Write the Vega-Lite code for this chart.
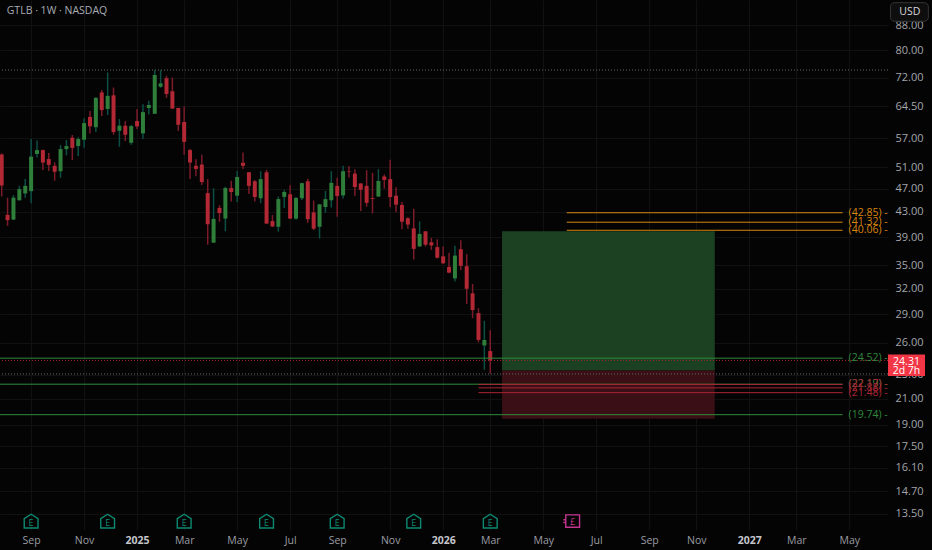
{
"$schema":"https://vega.github.io/schema/vega-lite/v6.json",
"width":888,"height":530,
"autosize":{"type":"none"},
"padding":{"left":0,"top":0,"right":44,"bottom":20},
"background":"#040404",
"config":{"view":{"stroke":null},"font":"Open Sans"},
"datasets":{
"candles":[
{"date":"2024-07-29","open":53.6,"high":53.8,"low":45.6,"close":47.55},
{"date":"2024-08-05","open":42.5,"high":45.4,"low":40.75,"close":41.65},
{"date":"2024-08-12","open":41.75,"high":45.85,"low":41.65,"close":45.4},
{"date":"2024-08-19","open":44.95,"high":47.5,"low":44.9,"close":46.9},
{"date":"2024-08-26","open":46.15,"high":48.75,"low":45.4,"close":47.5},
{"date":"2024-09-02","open":46.55,"high":56.85,"low":44.45,"close":53.15},
{"date":"2024-09-09","open":53.7,"high":56.55,"low":52.95,"close":54.5},
{"date":"2024-09-16","open":54.5,"high":54.6,"low":50.5,"close":51.95},
{"date":"2024-09-23","open":52.65,"high":53.9,"low":50.3,"close":51.5},
{"date":"2024-09-30","open":51.3,"high":52.0,"low":48.45,"close":50.15},
{"date":"2024-10-07","open":50.25,"high":55.55,"low":49.0,"close":54.7},
{"date":"2024-10-14","open":54.7,"high":56.65,"low":53.4,"close":55.35},
{"date":"2024-10-21","open":57.15,"high":57.75,"low":52.45,"close":54.95},
{"date":"2024-10-28","open":55.35,"high":57.25,"low":53.25,"close":56.85},
{"date":"2024-11-04","open":56.7,"high":61.6,"low":55.0,"close":60.45},
{"date":"2024-11-11","open":61.9,"high":63.3,"low":58.1,"close":59.7},
{"date":"2024-11-18","open":59.5,"high":66.75,"low":58.4,"close":66.6},
{"date":"2024-11-25","open":68.0,"high":68.6,"low":62.1,"close":63.55},
{"date":"2024-12-02","open":63.8,"high":73.4,"low":62.35,"close":67.1},
{"date":"2024-12-09","open":67.25,"high":69.3,"low":57.8,"close":58.4},
{"date":"2024-12-16","open":58.7,"high":61.4,"low":55.2,"close":59.85},
{"date":"2024-12-23","open":59.85,"high":60.95,"low":56.4,"close":57.8},
{"date":"2024-12-30","open":56.05,"high":60.0,"low":55.6,"close":59.75},
{"date":"2025-01-06","open":60.95,"high":63.8,"low":59.1,"close":59.7},
{"date":"2025-01-13","open":58.1,"high":65.0,"low":56.85,"close":63.05},
{"date":"2025-01-20","open":64.05,"high":65.85,"low":62.5,"close":64.8},
{"date":"2025-01-27","open":62.65,"high":74.1,"low":62.6,"close":72.7},
{"date":"2025-02-03","open":69.5,"high":74.1,"low":69.2,"close":70.4},
{"date":"2025-02-10","open":71.8,"high":72.5,"low":66.6,"close":67.6},
{"date":"2025-02-17","open":68.3,"high":72.0,"low":63.9,"close":63.9},
{"date":"2025-02-24","open":64.05,"high":64.1,"low":58.65,"close":60.05},
{"date":"2025-03-03","open":60.7,"high":64.4,"low":53.55,"close":56.25},
{"date":"2025-03-10","open":54.5,"high":54.7,"low":48.75,"close":51.95},
{"date":"2025-03-17","open":51.3,"high":52.6,"low":49.3,"close":50.7},
{"date":"2025-03-24","open":51.55,"high":53.55,"low":47.65,"close":48.2},
{"date":"2025-03-31","open":46.2,"high":48.75,"low":37.9,"close":41.0},
{"date":"2025-04-07","open":38.2,"high":47.05,"low":38.2,"close":41.85},
{"date":"2025-04-14","open":43.65,"high":44.1,"low":41.4,"close":42.8},
{"date":"2025-04-21","open":41.9,"high":47.35,"low":39.9,"close":47.1},
{"date":"2025-04-28","open":47.1,"high":48.45,"low":44.75,"close":46.4},
{"date":"2025-05-05","open":45.75,"high":50.3,"low":44.6,"close":49.15},
{"date":"2025-05-12","open":51.9,"high":54.0,"low":50.7,"close":51.3},
{"date":"2025-05-19","open":50.05,"high":50.1,"low":46.05,"close":47.5},
{"date":"2025-05-26","open":48.35,"high":48.6,"low":44.75,"close":45.5},
{"date":"2025-06-02","open":45.3,"high":50.25,"low":44.45,"close":48.75},
{"date":"2025-06-09","open":50.05,"high":50.5,"low":41.05,"close":41.1},
{"date":"2025-06-16","open":41.5,"high":42.5,"low":40.6,"close":40.65},
{"date":"2025-06-23","open":40.6,"high":45.6,"low":39.85,"close":45.15},
{"date":"2025-06-30","open":45.55,"high":46.76,"low":43.65,"close":46.4},
{"date":"2025-07-07","open":46.0,"high":47.6,"low":41.85,"close":41.9},
{"date":"2025-07-14","open":41.9,"high":45.5,"low":41.7,"close":45.35},
{"date":"2025-07-21","open":45.3,"high":48.06,"low":45.0,"close":48.0},
{"date":"2025-07-28","open":48.35,"high":48.8,"low":41.25,"close":41.8},
{"date":"2025-08-04","open":42.9,"high":44.9,"low":40.1,"close":40.3},
{"date":"2025-08-11","open":40.6,"high":44.3,"low":38.8,"close":44.25},
{"date":"2025-08-18","open":43.8,"high":46.6,"low":42.85,"close":45.15},
{"date":"2025-08-25","open":44.95,"high":50.25,"low":43.7,"close":48.06},
{"date":"2025-09-01","open":47.5,"high":49.0,"low":42.2,"close":45.7},
{"date":"2025-09-08","open":45.8,"high":51.3,"low":45.25,"close":50.25},
{"date":"2025-09-15","open":50.3,"high":51.25,"low":49.05,"close":50.2},
{"date":"2025-09-22","open":49.8,"high":50.65,"low":45.7,"close":47.3},
{"date":"2025-09-29","open":47.95,"high":48.0,"low":43.15,"close":46.8},
{"date":"2025-10-06","open":47.5,"high":50.45,"low":43.86,"close":44.5},
{"date":"2025-10-13","open":45.35,"high":49.95,"low":42.75,"close":45.2},
{"date":"2025-10-20","open":45.6,"high":50.65,"low":45.55,"close":48.4},
{"date":"2025-10-27","open":49.25,"high":49.65,"low":47.0,"close":48.6},
{"date":"2025-11-03","open":48.75,"high":52.5,"low":43.8,"close":45.5},
{"date":"2025-11-10","open":45.75,"high":47.25,"low":42.95,"close":44.2},
{"date":"2025-11-17","open":44.15,"high":44.65,"low":40.2,"close":41.4},
{"date":"2025-11-24","open":41.95,"high":42.1,"low":40.3,"close":40.95},
{"date":"2025-12-01","open":40.35,"high":43.5,"low":35.8,"close":37.3},
{"date":"2025-12-08","open":37.65,"high":41.45,"low":37.6,"close":39.5},
{"date":"2025-12-15","open":39.9,"high":39.95,"low":37.65,"close":37.9},
{"date":"2025-12-22","open":38.25,"high":38.9,"low":37.15,"close":37.8},
{"date":"2025-12-29","open":37.55,"high":38.7,"low":35.95,"close":36.05},
{"date":"2026-01-05","open":36.25,"high":37.65,"low":35.2,"close":35.3},
{"date":"2026-01-12","open":34.8,"high":36.75,"low":33.96,"close":34.05},
{"date":"2026-01-19","open":33.3,"high":37.75,"low":32.9,"close":36.35},
{"date":"2026-01-26","open":37.25,"high":38.55,"low":34.4,"close":34.95},
{"date":"2026-02-02","open":34.9,"high":36.55,"low":30.2,"close":32.0},
{"date":"2026-02-09","open":31.45,"high":32.6,"low":28.6,"close":29.5},
{"date":"2026-02-16","open":29.15,"high":29.7,"low":26.05,"close":26.3},
{"date":"2026-02-23","open":25.75,"high":28.3,"low":23.45,"close":26.29},
{"date":"2026-03-02","open":25.2,"high":27.3,"low":23.13,"close":24.31}
],
"levels":[
{"start":"2026-06-01","end":"2027-04-25","price":42.85,"kind":"target","label":"(42.85)  -"},
{"start":"2026-06-01","end":"2027-04-25","price":41.32,"kind":"target","label":"(41.32)  -"},
{"start":"2026-06-01","end":"2027-04-25","price":40.06,"kind":"target","label":"(40.06)  -"},
{"start":"2024-07-27","end":"2027-04-25","price":24.52,"kind":"support","label":"(24.52)  -"},
{"start":"2024-07-27","end":"2027-04-25","price":22.19,"kind":"support","label":"(22.19)  -"},
{"start":"2024-07-27","end":"2027-04-25","price":19.74,"kind":"support","label":"(19.74)  -"},
{"start":"2026-02-16","end":"2027-04-25","price":22.17,"kind":"stop","label":"(22.17)  -"},
{"start":"2026-02-16","end":"2027-04-25","price":21.88,"kind":"stop","label":"(21.88)  -"},
{"start":"2026-02-16","end":"2027-04-25","price":21.48,"kind":"stop","label":"(21.48)  -"}
],
"zones":[
{"start":"2026-03-16","end":"2026-11-24","top":39.9,"bottom":23.38,"zone":"profit"},
{"start":"2026-03-16","end":"2026-11-24","top":23.38,"bottom":19.43,"zone":"loss"}
],
"dotted":[
{"price":74.1,"kind":"extreme"},
{"price":23.08,"kind":"extreme"},
{"price":24.31,"kind":"last"}
],
"events":[
{"date":"2024-09-02","glyph":"E"},
{"date":"2024-12-02","glyph":"E"},
{"date":"2025-03-03","glyph":"E"},
{"date":"2025-06-09","glyph":"E"},
{"date":"2025-09-01","glyph":"E"},
{"date":"2025-12-01","glyph":"E"},
{"date":"2026-03-02","glyph":"E"}
]
},
"layer":[
{"data":{"name":"zones"},"mark":{"type":"rect"},
 "encoding":{
  "x":{"field":"start","type":"temporal","scale":{"type":"utc","domain":["2024-07-27","2027-06-18"],"padding":0},
   "axis":{"title":null,"orient":"bottom","domain":false,"ticks":false,"grid":true,"gridColor":"#111111","gridWidth":1,"labelPadding":5,"labelFontSize":10.5,"labelFont":"Open Sans","labelColor":{"condition":{"test":"utcFormat(datum.value,'%m')=='01'","value":"#c4c6cc"},"value":"#9a9ca3"},"labelFontWeight":{"condition":{"test":"utcFormat(datum.value,'%m')=='01'","value":"bold"},"value":"normal"},"labelFlush":false,"labelOverlap":false,
   "values":["2024-09-02","2024-11-04","2025-01-06","2025-03-03","2025-05-05","2025-07-07","2025-09-01","2025-11-03","2026-01-05","2026-03-02","2026-05-04","2026-07-06","2026-09-07","2026-11-02","2027-01-04","2027-03-01","2027-05-03"],
   "labelExpr":"utcFormat(datum.value,'%m')=='01' ? utcFormat(datum.value,'%Y') : utcFormat(datum.value,'%b')"}},
  "x2":{"field":"end"},
  "y":{"field":"top","type":"quantitative","scale":{"type":"log","domain":[12.68,96.95],"nice":false,"zero":false},
   "axis":{"title":null,"orient":"right","domain":false,"ticks":false,"grid":true,"gridColor":"#111111","gridWidth":1,"labelPadding":7,"labelFontSize":11,"labelFont":"Open Sans","labelColor":"#a3a5ab","labelOverlap":false,"labelFlush":false,"format":".2f",
   "values":[13.5,14.7,16.1,17.5,19,21,23,26,29,32,35,39,43,47,51,57,64.5,72,80,88]}},
  "y2":{"field":"bottom"},
  "color":{"field":"zone","type":"nominal","scale":{"domain":["profit","loss","extreme","last","target","support","stop"],"range":["#1c4122","#3a0f15","#6a6a6a","#a82431","#d9860f","#2f8a3c","#a92434"]},"legend":null}
 }},
{"data":{"name":"candles"},"mark":{"type":"rule","strokeWidth":1.5},
 "encoding":{
  "x":{"field":"date","type":"temporal"},
  "y":{"field":"low","type":"quantitative"},
  "y2":{"field":"high"},
  "color":{"condition":{"test":"datum.close >= datum.open","value":"#0c4f44"},"value":"#7c1b2a"}
 }},
{"data":{"name":"candles"},"mark":{"type":"bar","size":4},
 "encoding":{
  "x":{"field":"date","type":"temporal"},
  "y":{"field":"open","type":"quantitative"},
  "y2":{"field":"close"},
  "color":{"condition":{"test":"datum.close >= datum.open","value":"#2f7f3b"},"value":"#b22834"}
 }},
{"data":{"name":"dotted"},"mark":{"type":"rule","strokeWidth":1,"strokeDash":[1,2]},
 "encoding":{
  "y":{"field":"price","type":"quantitative"},
  "color":{"field":"kind","type":"nominal","legend":null}
 }},
{"data":{"name":"levels"},"mark":{"type":"rule","strokeWidth":1},
 "encoding":{
  "x":{"field":"start","type":"temporal"},
  "x2":{"field":"end"},
  "y":{"field":"price","type":"quantitative"},
  "color":{"field":"kind","type":"nominal","legend":null}
 }},
{"data":{"name":"levels"},"mark":{"type":"text","align":"left","baseline":"middle","dx":6,"fontSize":10.5,"font":"Open Sans"},
 "encoding":{
  "x":{"field":"end","type":"temporal"},
  "y":{"field":"price","type":"quantitative"},
  "text":{"field":"label"},
  "color":{"field":"kind","type":"nominal","legend":null}
 }},
{"data":{"name":"events"},"mark":{"type":"point","filled":false,"shape":"M-1,-0.35 L0,-1 L1,-0.35 L1,1 L-1,1 Z","size":190,"strokeWidth":1.4,"color":"#0c8a72","opacity":1},
 "encoding":{"x":{"field":"date","type":"temporal"},"y":{"datum":13.12}}},
{"data":{"name":"events"},"mark":{"type":"text","fontSize":9,"color":"#0c8a72","font":"Open Sans","baseline":"middle"},
 "encoding":{"x":{"field":"date","type":"temporal"},"y":{"datum":13.05},"text":{"field":"glyph"}}},
{"data":{"values":[{"date":"2026-06-08","glyph":"£"}]},"mark":{"type":"point","filled":false,"shape":"M-1,-0.9 L1,-0.9 L1,0.9 L-1,0.9 Z M-1.35,-0.2 L-1,-0.2 M-1.35,0.2 L-1,0.2","size":190,"strokeWidth":1.4,"color":"#c2348e","opacity":1},
 "encoding":{"x":{"field":"date","type":"temporal"},"y":{"datum":13.12}}},
{"data":{"values":[{"date":"2026-06-08","glyph":"£"}]},"mark":{"type":"text","fontSize":9,"color":"#c2348e","font":"Open Sans","baseline":"middle"},
 "encoding":{"x":{"field":"date","type":"temporal"},"y":{"datum":13.1},"text":{"field":"glyph"}}},
{"data":{"values":[{"date":"2024-08-04","price":92.94,"label":"GTLB · 1W · NASDAQ"}]},"mark":{"type":"text","align":"left","baseline":"middle","fontSize":10.5,"color":"#a9acb3","font":"Open Sans"},
 "encoding":{"x":{"field":"date","type":"temporal"},"y":{"field":"price","type":"quantitative"},"text":{"field":"label"}}},
{"data":{"values":[{"start":"2027-06-21","end":"2027-08-05","top":95.95,"bottom":89.35,"mid":"2027-07-14","midY":92.5,"label":"USD"}]},"layer":[
 {"mark":{"type":"rect","fill":"#0e0e0e","stroke":"#353535","strokeWidth":1,"cornerRadius":4},
  "encoding":{"x":{"field":"start","type":"temporal"},"x2":{"field":"end"},"y":{"field":"top","type":"quantitative"},"y2":{"field":"bottom"}}},
 {"mark":{"type":"text","color":"#d8d9dd","fontSize":10.5,"font":"Open Sans"},
  "encoding":{"x":{"field":"mid","type":"temporal"},"y":{"field":"midY","type":"quantitative"},"text":{"field":"label"}}}
]},
{"data":{"values":[{"start":"2027-06-18","end":"2027-08-01","top":24.88,"bottom":22.89}]},"mark":{"type":"rect","fill":"#f23645"},
 "encoding":{"x":{"field":"start","type":"temporal"},"x2":{"field":"end"},"y":{"field":"top","type":"quantitative"},"y2":{"field":"bottom"}}},
{"data":{"values":[{"mid":"2027-07-10","price":24.2,"label":"24.31"},{"mid":"2027-07-10","price":23.38,"label":"2d 7h"}]},"mark":{"type":"text","color":"#ffffff","fontSize":10.5,"font":"Open Sans"},
 "encoding":{"x":{"field":"mid","type":"temporal"},"y":{"field":"price","type":"quantitative"},"text":{"field":"label"}}}
]
}
